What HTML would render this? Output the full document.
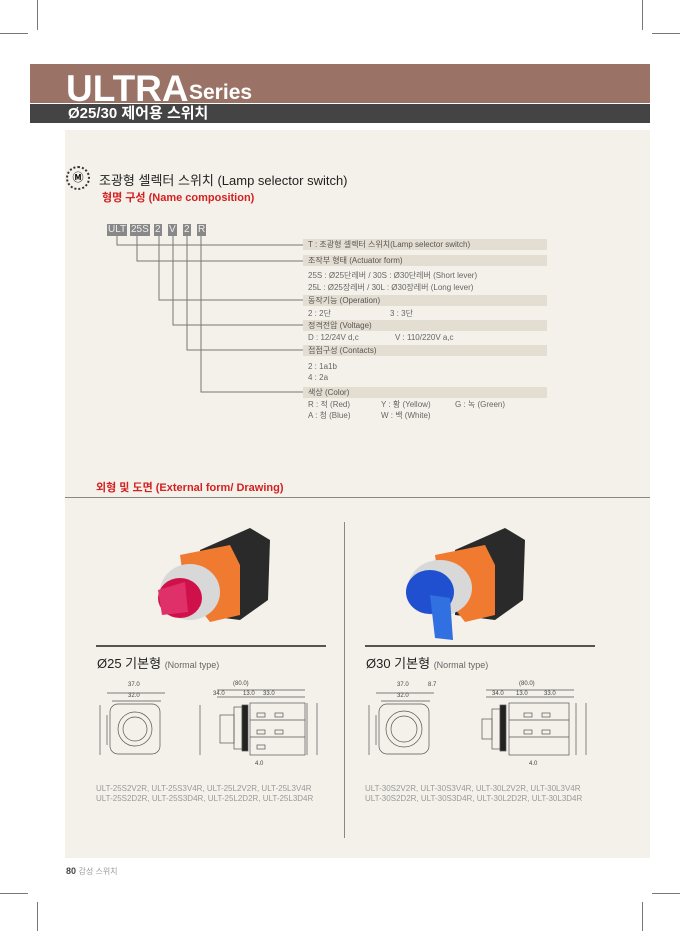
<!DOCTYPE html>
<html><head><meta charset="utf-8"><style>
body{margin:0;width:680px;height:931px;background:#fff;position:relative;overflow:hidden;font-family:"Liberation Sans","Noto Sans CJK KR",sans-serif}
.a{position:absolute}
.bar{background:#e4ddd2;height:11px;left:303px;width:244px;font-size:8px;color:#555;line-height:11px;padding-left:5px;box-sizing:border-box}
.t{font-size:8px;color:#666;left:308px}
.code{background:#888;color:#eee;font-size:10px;height:12px;line-height:12px;padding:0 1px;top:224px}
.ln{background:#777}
.dt{font-size:8px;color:#999;line-height:10px}
</style></head><body>
<div class="a ln" style="left:37px;top:0;width:1px;height:30px"></div>
<div class="a ln" style="left:0;top:33px;width:28px;height:1px"></div>
<div class="a ln" style="left:642px;top:0;width:1px;height:30px"></div>
<div class="a ln" style="left:652px;top:33px;width:28px;height:1px"></div>
<div class="a ln" style="left:37px;top:902px;width:1px;height:29px"></div>
<div class="a ln" style="left:0;top:893px;width:28px;height:1px"></div>
<div class="a ln" style="left:642px;top:902px;width:1px;height:29px"></div>
<div class="a ln" style="left:652px;top:893px;width:28px;height:1px"></div>
<div class="a" style="left:30px;top:64px;width:620px;height:39px;background:#9a7366"></div>
<div class="a" style="left:66px;top:70px;font-size:37px;font-weight:bold;color:#fff;line-height:37px">ULTRA</div>
<div class="a" style="left:189px;top:82px;font-size:21px;font-weight:bold;color:#fff;line-height:22px">Series</div>
<div class="a" style="left:30px;top:104px;width:620px;height:19px;background:#444"></div>
<div class="a" style="left:68px;top:104px;font-size:15px;font-weight:bold;color:#fff;line-height:19px">Ø25/30 제어용 스위치</div>
<div class="a" style="left:65px;top:130px;width:585px;height:728px;background:#f4f1ea"></div>
<div class="a" style="left:66px;top:166px;width:24px;height:24px;border:2px dotted #333;border-radius:50%;box-sizing:border-box;font-size:11px;text-align:center;line-height:20px;font-weight:bold">Ⓜ</div>
<div class="a" style="left:99px;top:170px;font-size:13px;color:#222">조광형 셀렉터 스위치 (Lamp selector switch)</div>
<div class="a" style="left:102px;top:189px;font-size:11px;color:#d42020;font-weight:bold">형명 구성 (Name composition)</div>
<div class="a code" style="left:107px">ULT</div>
<div class="a code" style="left:130px">25S</div>
<div class="a code" style="left:154px">2</div>
<div class="a code" style="left:168px">V</div>
<div class="a code" style="left:183px">2</div>
<div class="a code" style="left:197px">R</div>
<svg class="a" style="left:0;top:0" width="680" height="931"><g stroke="#777" fill="none" stroke-width="1">
<path d="M117 236V245H303M137 236V261H303M159 236V300H303M173 236V325H303M187 236V350H303M201 236V392H303"/></g></svg>
<div class="a bar" style="top:239px">T : 조광형 셀렉터 스위치(Lamp selector switch)</div>
<div class="a bar" style="top:255px">조작부 형태 (Actuator form)</div>
<div class="a t" style="top:270px">25S : Ø25단레버 / 30S : Ø30단레버 (Short lever)</div>
<div class="a t" style="top:282px">25L : Ø25장레버 / 30L : Ø30장레버 (Long lever)</div>
<div class="a bar" style="top:295px">동작기능 (Operation)</div>
<div class="a t" style="top:308px">2 : 2단</div><div class="a t" style="top:308px;left:390px">3 : 3단</div>
<div class="a bar" style="top:320px">정격전압 (Voltage)</div>
<div class="a t" style="top:333px">D : 12/24V d,c</div><div class="a t" style="top:333px;left:395px">V : 110/220V a,c</div>
<div class="a bar" style="top:345px">접점구성 (Contacts)</div>
<div class="a t" style="top:362px">2 : 1a1b</div><div class="a t" style="top:373px">4 : 2a</div>
<div class="a bar" style="top:387px">색상 (Color)</div>
<div class="a t" style="top:399px">R : 적 (Red)</div><div class="a t" style="top:399px;left:381px">Y : 황 (Yellow)</div><div class="a t" style="top:399px;left:455px">G : 녹 (Green)</div>
<div class="a t" style="top:410px">A : 청 (Blue)</div><div class="a t" style="top:410px;left:381px">W : 백 (White)</div>
<div class="a" style="left:96px;top:479px;font-size:11px;color:#d42020;font-weight:bold">외형 및 도면 (External form/ Drawing)</div>
<div class="a ln" style="left:65px;top:497px;width:585px;height:1px;background:#888"></div>
<div class="a ln" style="left:344px;top:522px;width:1px;height:316px;background:#888"></div>
<svg class="a" style="left:140px;top:520px" width="160" height="120">
<path d="M60 30L110 8 130 20 128 80 100 100 60 95Z" fill="#2a2a2a"/>
<path d="M40 35L90 25 100 45 100 95 70 102 45 70Z" fill="#f07a30"/>
<ellipse cx="50" cy="72" rx="30" ry="28" fill="#d8d8d8"/>
<ellipse cx="40" cy="78" rx="22" ry="20" fill="#d0104a"/>
<path d="M18 70L45 62 48 92 22 95Z" fill="#e0306a"/></svg>
<svg class="a" style="left:395px;top:520px" width="160" height="120">
<path d="M60 30L110 8 130 20 128 80 100 100 60 95Z" fill="#2a2a2a"/>
<path d="M40 35L90 25 100 45 100 95 70 102 45 70Z" fill="#f07a30"/>
<ellipse cx="45" cy="68" rx="32" ry="28" fill="#d8d8d8"/>
<ellipse cx="35" cy="72" rx="24" ry="22" fill="#2050d0"/>
<path d="M35 75L55 78 58 120 40 118Z" fill="#3070e0"/></svg>
<div class="a" style="left:96px;top:645px;width:230px;height:2px;background:#555"></div>
<div class="a" style="left:365px;top:645px;width:230px;height:2px;background:#555"></div>
<div class="a" style="left:97px;top:653px;font-size:13px;color:#222">Ø25 기본형 <span style="font-size:9px;color:#666">(Normal type)</span></div>
<div class="a" style="left:366px;top:653px;font-size:13px;color:#222">Ø30 기본형 <span style="font-size:9px;color:#666">(Normal type)</span></div>
<svg class="a" style="left:95px;top:675px" width="250" height="100"><g stroke="#555" fill="none" stroke-width="0.7">
<rect x="15" y="29" width="50" height="50" rx="8"/><circle cx="40" cy="54" r="17"/><circle cx="40" cy="54" r="12"/>
<path d="M12 18H70M17 26H66"/><path d="M5 30V80M12 40V70"/>
<rect x="125" y="40" width="14" height="28"/><rect x="139" y="32" width="8" height="42"/><rect x="147" y="30" width="6" height="46" fill="#222"/>
<rect x="155" y="28" width="55" height="52"/><path d="M155 45H210M155 62H210M122 15H210M122 22H210M222 28V80M212 28V80M105 30V80"/>
<rect x="162" y="38" width="8" height="4"/><rect x="180" y="38" width="8" height="4"/><rect x="162" y="55" width="8" height="4"/><rect x="180" y="55" width="8" height="4"/><rect x="162" y="70" width="8" height="4"/>
</g><g fill="#444" font-size="6" font-family="Liberation Sans"><text x="33" y="11">37.0</text><text x="33" y="22">32.0</text><text x="138" y="10">(80.0)</text><text x="118" y="20">34.0</text><text x="148" y="20">13.0</text><text x="168" y="20">33.0</text><text x="160" y="90">4.0</text></g></svg>
<svg class="a" style="left:364px;top:675px" width="250" height="100"><g stroke="#555" fill="none" stroke-width="0.7">
<rect x="15" y="29" width="50" height="50" rx="8"/><circle cx="40" cy="54" r="18"/><circle cx="40" cy="54" r="13"/>
<path d="M12 18H70M17 26H66"/><path d="M5 30V80M12 40V70"/>
<rect x="118" y="44" width="10" height="20"/><rect x="128" y="34" width="8" height="40"/><rect x="136" y="30" width="6" height="46" fill="#222"/>
<rect x="145" y="28" width="60" height="52"/><path d="M145 45H205M145 62H205M122 15H210M122 22H210M222 28V80M212 28V80"/>
<rect x="160" y="38" width="8" height="4"/><rect x="178" y="38" width="8" height="4"/><rect x="160" y="55" width="8" height="4"/><rect x="178" y="55" width="8" height="4"/></g>
<g fill="#444" font-size="6" font-family="Liberation Sans"><text x="33" y="11">37.0</text><text x="64" y="11">8.7</text><text x="33" y="22">32.0</text><text x="155" y="10">(80.0)</text><text x="128" y="20">34.0</text><text x="152" y="20">13.0</text><text x="180" y="20">33.0</text><text x="165" y="90">4.0</text></g></svg>
<div class="a dt" style="left:96px;top:784px">ULT-25S2V2R, ULT-25S3V4R, ULT-25L2V2R, ULT-25L3V4R<br>ULT-25S2D2R, ULT-25S3D4R, ULT-25L2D2R, ULT-25L3D4R</div>
<div class="a dt" style="left:365px;top:784px">ULT-30S2V2R, ULT-30S3V4R, ULT-30L2V2R, ULT-30L3V4R<br>ULT-30S2D2R, ULT-30S3D4R, ULT-30L2D2R, ULT-30L3D4R</div>
<div class="a" style="left:66px;top:866px;font-size:9px;color:#444;font-weight:bold">80 <span style="font-weight:normal;color:#999;font-size:8px">감성 스위치</span></div>
</body></html>
